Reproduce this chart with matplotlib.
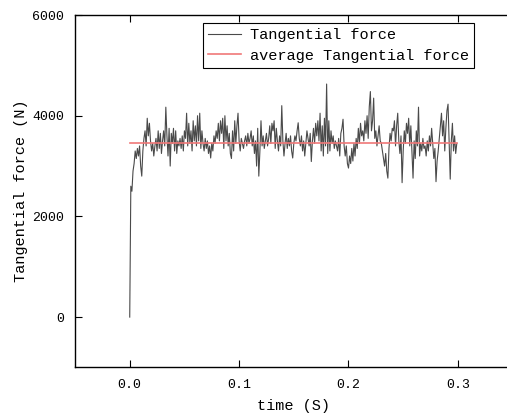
import numpy as np
import matplotlib
matplotlib.use("Agg")
import matplotlib.pyplot as plt

#---------------------------------------------------
#----------------------data-------------------------
#---------------------------------------------------
# sampled force signal, 1 ms steps, values read off the picture (N)
force = [
    0, 2600, 2500, 2900, 3050, 3300, 3150, 3350, 3200, 3400,
    3000, 2800, 3300, 3550, 3700, 3400, 3950, 3600, 3850, 3500,
    3300, 3450, 3200, 3400, 3550, 3300, 3700, 3350, 3650, 3250,
    3500, 3700, 3400, 4170, 3600, 3200, 3750, 3000, 3650, 3450,
    3750, 3300, 3700, 3250, 3500, 3400, 3550, 3350, 3600, 3300,
    3700, 3550, 4050, 3400, 3850, 3450, 3700, 3300, 3900, 3500,
    3800, 3400, 4000, 3500, 4050, 3350, 3700, 3450, 3300, 3550,
    3350, 3500, 3250, 3400, 3160, 3450, 3300, 3600, 3450, 3700,
    3550, 3850, 3500, 3900, 3650, 3950, 3350, 4000, 3500, 3800,
    3400, 3650, 3250, 3150, 3700, 3300, 3900, 3450, 3800, 4050,
    3500, 3300, 3550, 3450, 3350, 3500, 3600, 3400, 3650, 3450,
    3550, 3700, 3400, 3600, 3250, 3500, 3000, 3750, 2800, 3300,
    3900, 3400, 3600, 3350, 3500, 3650, 3400, 3550, 3800, 3450,
    3850, 3700, 3900, 3350, 3750, 3500, 3300, 3600, 3400, 4200,
    3500, 3200, 3450, 3650, 3350, 3550, 3400, 3600, 3300, 3160,
    3450, 3600, 3500, 3700, 3860, 3550, 3400, 3600, 3300, 3500,
    3200, 3450, 3700, 3550, 3400, 3650, 3090, 3500, 3750, 3450,
    3850, 3600, 3900, 3500, 4050, 3300, 3800, 3200, 3950, 3400,
    4630, 3250, 3900, 3300, 3700, 3450, 3600, 3350, 3500, 3400,
    3300, 3550, 3200, 3650, 3750, 3930, 3400, 3200, 3400, 3050,
    2960, 3200, 3050, 3350, 3100, 3450, 3200, 3550, 3350, 3750,
    3450, 3850, 3600, 3700, 3500, 3900, 3650, 4000, 3550, 4180,
    4480, 3700, 3900, 4350, 3550, 3700, 3400, 3600, 3800, 3500,
    3450, 3300, 3150, 3000, 3250, 2900, 2760, 3350, 3650, 3500,
    3750, 3700, 3900, 3400, 3800, 4050, 3500, 3250, 3600, 2670,
    3300, 3700, 3450, 3850, 3650, 3950, 3400, 3800, 3300, 2760,
    3500, 3150, 3700, 3400, 4170, 3200, 3450, 3300, 3550, 3350,
    3400, 3200, 3500, 3300, 3600, 3400, 3750, 3450, 3150, 3350,
    2690, 3100, 3300, 3550, 3800, 4050, 3600, 3900, 3300, 3750,
    4100, 4230, 3450, 2740, 3500, 3850, 3300, 3600, 3250, 3450,
]
dt = 0.001
avg_force = 3460  # average line level (N)

x_ticks = [0.0, 0.1, 0.2, 0.3]
y_ticks = [0, 2000, 4000, 6000]

#---------------------------------------------------
#----------------------plot-------------------------
#---------------------------------------------------
plt.rcParams['font.family'] = ['Liberation Mono', 'DejaVu Sans Mono']

time = np.arange(len(force)) * dt

fig = plt.figure(figsize=(5.07, 4.18), dpi=100)
# right spine sits just past the figure edge (cropped like the original)
ax = fig.add_axes([0.148, 0.121, 0.863, 0.843])

ax.plot(time, force, color='#4a4a4a', lw=0.8, label='Tangential force')
ax.plot([time[0], time[-1]], [avg_force, avg_force], color='#f07878', lw=1.2,
        label='average Tangential force')

ax.set_xlim(-0.05, 0.35)
ax.set_ylim(-1000, 6000)
ax.set_xticks(x_ticks)
ax.set_xticklabels(['%.1f' % t for t in x_ticks])
ax.set_yticks(y_ticks)
ax.tick_params(direction='in', length=5, width=0.8, top=True, right=False,
               labelsize=9.5, pad=8)

ax.set_xlabel('time (S)', fontsize=11, labelpad=6)
ax.set_ylabel('Tangential force (N)', fontsize=11, labelpad=3)

for sp in ax.spines.values():
    sp.set_linewidth(1.0)

leg = ax.legend(loc='upper right', bbox_to_anchor=(0.912, 0.977), borderaxespad=0.,
                fontsize=11, fancybox=False, framealpha=1, edgecolor='black',
                handlelength=2.1, handletextpad=0.6, labelspacing=0.4, borderpad=0.35)
leg.get_frame().set_linewidth(0.8)

fig.savefig('out.png', dpi=100)
